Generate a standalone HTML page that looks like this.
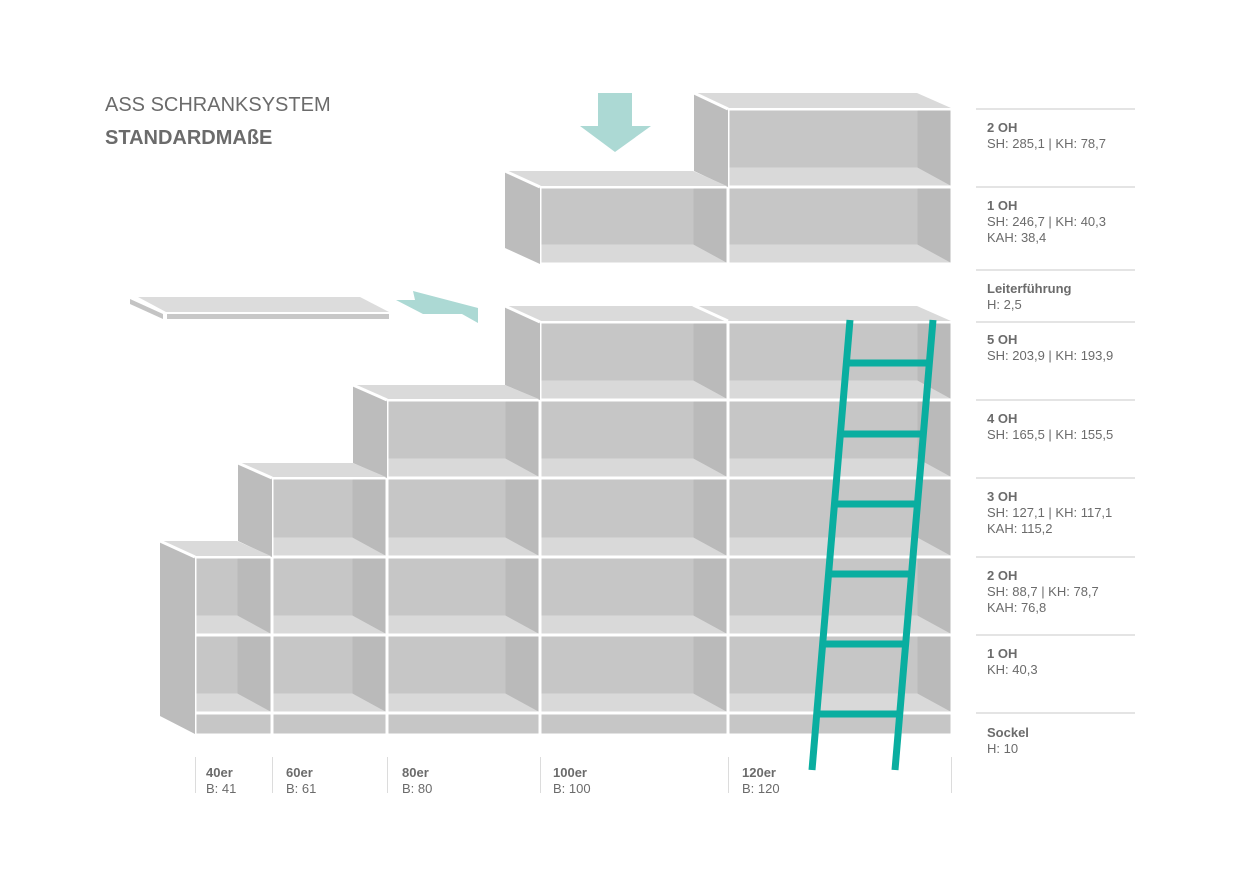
<!DOCTYPE html>
<html><head><meta charset="utf-8">
<style>
html,body{margin:0;padding:0;background:#fff;}
body{width:1240px;height:886px;overflow:hidden;position:relative;font-family:"Liberation Sans",sans-serif;}
svg{position:absolute;left:0;top:0;}
.t{font-family:"Liberation Sans",sans-serif;fill:#6b6b6b;}
.h{font-weight:bold;font-size:13px;}
.n{font-size:13px;}
</style></head>
<body>
<svg id="s" width="1240" height="886" viewBox="0 0 1240 886" xmlns="http://www.w3.org/2000/svg">
<g id="cells"></g>
<g fill="#bcbcbc">
<polygon points="160,541 195,557 195,734 160,716"/>
<polygon points="238,463 272,478 272,557 238,541"/>
<polygon points="353,385 387,400 387,478 353,463"/>
<polygon points="505,306 540,322 540,400 505,385"/>
<polygon points="505,171 540,187 540,264 505,248"/>
<polygon points="694,93 728,109 728,187 694,171"/>
</g>
<g fill="#dadada">
<polygon points="162,541 237,541 271,556 196,556"/>
<polygon points="240,463 353,463 386,477 273,477"/>
<polygon points="355,385 505,385 539,399 388,399"/>
<polygon points="507,306 917,306 951,321 541,321"/>
<polygon points="507,171 693,171 727,186 541,186"/>
<polygon points="696,93 917,93 951,108 729,108"/>
</g>
<g stroke="#fff" stroke-width="3">
<line x1="693" y1="305" x2="728" y2="321"/>
<line x1="160" y1="541" x2="195" y2="557"/>
<line x1="238" y1="463" x2="272" y2="478"/>
<line x1="353" y1="385" x2="387" y2="400"/>
<line x1="505" y1="306" x2="540" y2="322"/>
<line x1="505" y1="171" x2="540" y2="187"/>
<line x1="694" y1="93" x2="728" y2="109"/>
</g>
<polygon points="138,297 360,297 389,312 166,312" fill="#dcdcdc"/>
<polygon points="130,299 163,314 163,319 130,304" fill="#c4c4c4"/>
<rect x="167" y="314" width="222" height="5" fill="#c8c8c8"/>
<polygon points="413,291 478,308 478,323 462,314 423,314 396,300 415,300" fill="#acd9d4"/>
<rect x="598" y="93" width="34" height="34" fill="#acd9d4"/>
<polygon points="580,126 651,126 615,152" fill="#acd9d4"/>
<g stroke="#0aaea0" stroke-width="7" stroke-linecap="butt">
<line x1="850" y1="320" x2="812" y2="770"/>
<line x1="933" y1="320" x2="895" y2="770"/>
<line x1="846" y1="363" x2="929" y2="363"/>
<line x1="840" y1="434" x2="923" y2="434"/>
<line x1="834" y1="504" x2="917" y2="504"/>
<line x1="828" y1="574" x2="911" y2="574"/>
<line x1="822" y1="644" x2="905" y2="644"/>
<line x1="816" y1="714" x2="899" y2="714"/>
</g>
<text class="t" x="105" y="111" font-size="20">ASS SCHRANKSYSTEM</text>
<text class="t" x="105" y="144" font-size="20" font-weight="bold">STANDARDMAßE</text>
<g stroke="#dcdcdc" stroke-width="1">
<line x1="195.5" y1="757" x2="195.5" y2="793"/>
<line x1="272.5" y1="757" x2="272.5" y2="793"/>
<line x1="387.5" y1="757" x2="387.5" y2="793"/>
<line x1="540.5" y1="757" x2="540.5" y2="793"/>
<line x1="728.5" y1="757" x2="728.5" y2="793"/>
<line x1="951.5" y1="757" x2="951.5" y2="793"/>
</g>
<text class="t h" x="206" y="777">40er</text><text class="t n" x="206" y="793">B: 41</text>
<text class="t h" x="286" y="777">60er</text><text class="t n" x="286" y="793">B: 61</text>
<text class="t h" x="402" y="777">80er</text><text class="t n" x="402" y="793">B: 80</text>
<text class="t h" x="553" y="777">100er</text><text class="t n" x="553" y="793">B: 100</text>
<text class="t h" x="742" y="777">120er</text><text class="t n" x="742" y="793">B: 120</text>
<g stroke="#dcdcdc" stroke-width="1.5">
<line x1="976" y1="109" x2="1135" y2="109"/>
<line x1="976" y1="187" x2="1135" y2="187"/>
<line x1="976" y1="270" x2="1135" y2="270"/>
<line x1="976" y1="322" x2="1135" y2="322"/>
<line x1="976" y1="400" x2="1135" y2="400"/>
<line x1="976" y1="478" x2="1135" y2="478"/>
<line x1="976" y1="557" x2="1135" y2="557"/>
<line x1="976" y1="635" x2="1135" y2="635"/>
<line x1="976" y1="713" x2="1135" y2="713"/>
</g>
<text class="t h" x="987" y="132">2 OH</text><text class="t n" x="987" y="148">SH: 285,1 | KH: 78,7</text>
<text class="t h" x="987" y="210">1 OH</text><text class="t n" x="987" y="226">SH: 246,7 | KH: 40,3</text><text class="t n" x="987" y="242">KAH: 38,4</text>
<text class="t h" x="987" y="293">Leiterführung</text><text class="t n" x="987" y="309">H: 2,5</text>
<text class="t h" x="987" y="344">5 OH</text><text class="t n" x="987" y="360">SH: 203,9 | KH: 193,9</text>
<text class="t h" x="987" y="423">4 OH</text><text class="t n" x="987" y="439">SH: 165,5 | KH: 155,5</text>
<text class="t h" x="987" y="501">3 OH</text><text class="t n" x="987" y="517">SH: 127,1 | KH: 117,1</text><text class="t n" x="987" y="533">KAH: 115,2</text>
<text class="t h" x="987" y="580">2 OH</text><text class="t n" x="987" y="596">SH: 88,7 | KH: 78,7</text><text class="t n" x="987" y="612">KAH: 76,8</text>
<text class="t h" x="987" y="658">1 OH</text><text class="t n" x="987" y="674">KH: 40,3</text>
<text class="t h" x="987" y="737">Sockel</text><text class="t n" x="987" y="753">H: 10</text>
</svg>
<script>
(function(){
var g=document.getElementById('cells'),h='';
var cols=[195,272,387,540,728,952];
var rows=[[635,713],[557,635],[478,557],[400,478],[322,400]];
var nrows=[2,3,4,5,5];
var cells=[];
for(var c=0;c<5;c++){for(var r=0;r<nrows[c];r++)cells.push([cols[c],cols[c+1],rows[r][0],rows[r][1]]);}
cells.push([540,728,187,264],[728,952,187,264],[728,952,109,187]);
cells.forEach(function(k){
 var x0=k[0]+1.5,x1=k[1]-1.5,y0=k[2]+1.5,y1=k[3]-1.5,w=33,f=18;
 h+='<rect x="'+x0+'" y="'+y0+'" width="'+(x1-x0)+'" height="'+(y1-y0)+'" fill="#c6c6c6"/>';
 h+='<polygon points="'+x0+','+(y1-f)+' '+(x1-w)+','+(y1-f)+' '+x1+','+y1+' '+x0+','+y1+'" fill="#d9d9d9"/>';
 h+='<polygon points="'+(x1-w)+','+y0+' '+x1+','+y0+' '+x1+','+y1+' '+(x1-w)+','+(y1-f)+'" fill="#bababa"/>';
});
for(var c=0;c<5;c++){h+='<rect x="'+(cols[c]+1.5)+'" y="714.5" width="'+(cols[c+1]-cols[c]-3)+'" height="19" fill="#c6c6c6"/>';}
g.innerHTML=h;
})();
</script>
</body></html>
